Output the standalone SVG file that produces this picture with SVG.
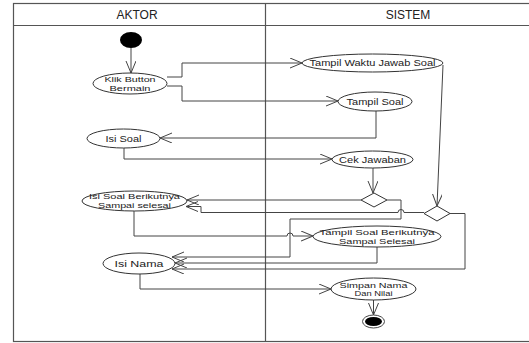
<svg xmlns="http://www.w3.org/2000/svg" width="529" height="343" viewBox="0 0 529 343">
<defs>
<style>
.frame{fill:none;stroke:#555;stroke-width:1.2}
.node ellipse{fill:#fff;stroke:#333;stroke-width:1}
.node text{font-family:"Liberation Sans",Arial,sans-serif;font-size:9px;fill:#222;text-anchor:middle}
.node text.two{font-size:7.5px}
.hdr{font-family:"Liberation Sans",Arial,sans-serif;font-size:12px;fill:#222;text-anchor:middle}
.conn path{fill:none;stroke:#444;stroke-width:1;marker-end:url(#arr)}
.dia{fill:#fff;stroke:#333;stroke-width:1}
</style>
<marker id="arr" markerUnits="userSpaceOnUse" markerWidth="14" markerHeight="12" refX="12" refY="5" orient="auto">
<path d="M0,0 L12,5 L0,10" fill="none" stroke="#444" stroke-width="1"/>
</marker>
</defs>
<rect width="529" height="343" fill="#fff"/>
<g id="swimlanes">
<rect class="frame" x="13.5" y="3.5" width="530" height="338"/>
<line class="frame" x1="13.5" y1="25.5" x2="529" y2="25.5"/>
<line class="frame" x1="265.5" y1="3.5" x2="265.5" y2="342"/>
<text class="hdr" x="137" y="19">AKTOR</text>
<text class="hdr" x="408" y="19">SISTEM</text>
</g>
<g class="conn" id="connectors">
<path d="M131,48 L131,73"/>
<path d="M167,77 L182,77 L182,63 L302,63"/>
<path d="M167,86 L182,86 L182,101 L338,101"/>
<path d="M376,111 L376,138 L160,138"/>
<path d="M124,148 L124,159 L332,159"/>
<path d="M373,168 L373,193"/>
<path d="M443,65 L437,206"/>
<path d="M361,200 L187,200"/>
<path d="M424,212.5 L404,212.5 A3,3 0 0 0 398,212.5 L201,212.5 L201,206.5 L186,206.5"/>
<path d="M134,211 L134,236 L287,236 A3,3 0 0 1 293,236 L313,236"/>
<path d="M387,200 L401,200 L401,219 L290,219 L290,257 L172,257"/>
<path d="M377,247 L377,263 L175,263"/>
<path d="M450,213.5 L465,213.5 L465,269 L172,269"/>
<path d="M140,274 L140,289 L331,289"/>
<path d="M373.5,300 L373.5,315"/>
</g>
<g id="start"><ellipse cx="131" cy="40" rx="11" ry="8" fill="#000"/></g>
<g class="node" id="klik"><ellipse cx="130" cy="83.5" rx="37" ry="10.5"/><text class="two" x="130" y="82" textLength="51" lengthAdjust="spacingAndGlyphs">Klik Button</text><text class="two" x="130" y="90.5" textLength="41" lengthAdjust="spacingAndGlyphs">Bermain</text></g>
<g class="node" id="waktu"><ellipse cx="372.5" cy="63" rx="70.5" ry="9"/><text x="372.5" y="66" textLength="126" lengthAdjust="spacingAndGlyphs">Tampil Waktu Jawab Soal</text></g>
<g class="node" id="tsoal"><ellipse cx="375" cy="101.5" rx="37" ry="9.5"/><text x="375" y="104.5" textLength="57" lengthAdjust="spacingAndGlyphs">Tampil Soal</text></g>
<g class="node" id="isisoal"><ellipse cx="123.5" cy="138.5" rx="36.5" ry="9.5"/><text x="123.5" y="141.5" textLength="36" lengthAdjust="spacingAndGlyphs">Isi Soal</text></g>
<g class="node" id="cek"><ellipse cx="372.5" cy="159.5" rx="40.5" ry="8.5"/><text x="372.5" y="162.5" textLength="67" lengthAdjust="spacingAndGlyphs">Cek Jawaban</text></g>
<g id="d1"><polygon class="dia" points="374,193 387,200 374,207 361,200"/></g>
<g id="d2"><polygon class="dia" points="437,206 450,213.5 437,221 424,213.5"/></g>
<g class="node" id="isiberikut"><ellipse cx="134.5" cy="201" rx="52.5" ry="10"/><text class="two" x="134.5" y="199" textLength="91" lengthAdjust="spacingAndGlyphs">Isi Soal Berikutnya</text><text class="two" x="134.5" y="207.5" textLength="73" lengthAdjust="spacingAndGlyphs">Sampai selesai</text></g>
<g class="node" id="tberikut"><ellipse cx="377" cy="236.5" rx="64" ry="10.5"/><text class="two" x="377" y="235" textLength="115" lengthAdjust="spacingAndGlyphs">Tampil Soal Berikutnya</text><text class="two" x="377" y="243.5" textLength="76" lengthAdjust="spacingAndGlyphs">Sampai Selesai</text></g>
<g class="node" id="isinama"><ellipse cx="139" cy="263.5" rx="36" ry="10.5"/><text x="139" y="266.5" textLength="49" lengthAdjust="spacingAndGlyphs">Isi Nama</text></g>
<g class="node" id="simpan"><ellipse cx="373.5" cy="289" rx="42.5" ry="11"/><text class="two" x="373.5" y="287.5" textLength="68" lengthAdjust="spacingAndGlyphs">Simpan Nama</text><text class="two" x="373.5" y="296" textLength="38" lengthAdjust="spacingAndGlyphs">Dan Nilai</text></g>
<g id="end"><ellipse cx="373.5" cy="321.5" rx="11" ry="6.5" fill="#fff" stroke="#444"/><ellipse cx="373.5" cy="321.5" rx="8.5" ry="4.5" fill="#000"/></g>
</svg>
